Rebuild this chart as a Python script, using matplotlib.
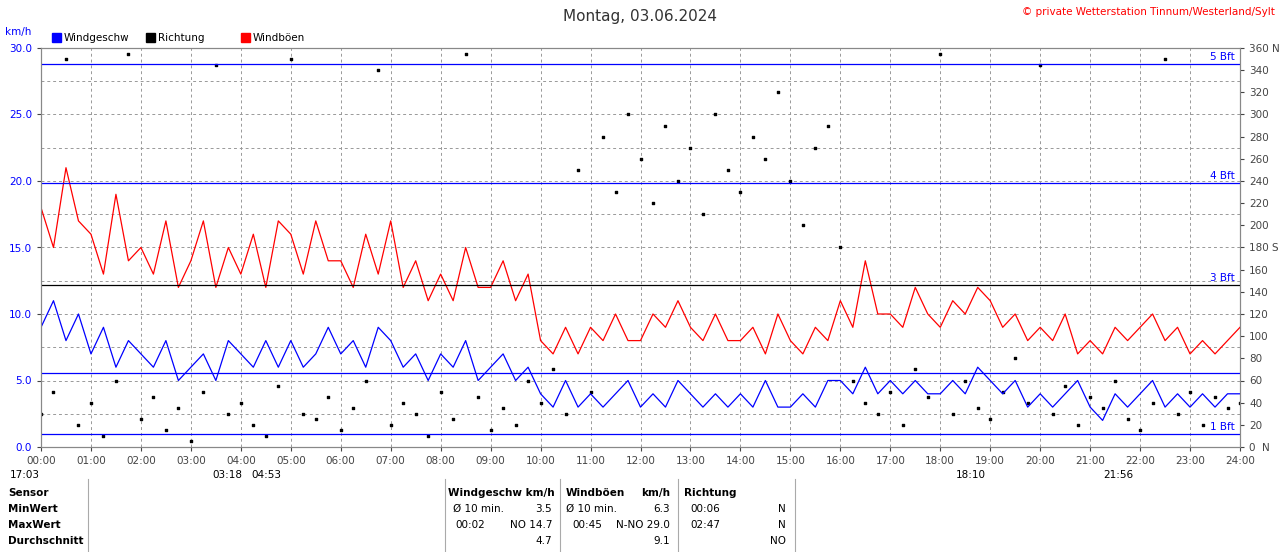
import matplotlib
matplotlib.use("Agg")
import matplotlib.pyplot as plt
import numpy as np

hours = [i * 0.25 for i in range(97)]
speed = [9,11,8,10, 7,9,6,8, 7,6,8,5, 6,7,5,8, 7,6,8,6, 8,6,7,9, 7,8,6,9, 8,6,7,5,
         7,6,8,5, 6,7,5,6, 4,3,5,3, 4,3,4,5, 3,4,3,5, 4,3,4,3, 4,3,5,3, 3,4,3,5,
         5,4,6,4, 5,4,5,4, 4,5,4,6, 5,4,5,3, 4,3,4,5, 3,2,4,3, 4,5,3,4, 3,4,3,4, 4]
gust = [18,15,21,17, 16,13,19,14, 15,13,17,12, 14,17,12,15, 13,16,12,17, 16,13,17,14,
        14,12,16,13, 17,12,14,11, 13,11,15,12, 12,14,11,13, 8,7,9,7, 9,8,10,8,
        8,10,9,11, 9,8,10,8, 8,9,7,10, 8,7,9,8, 11,9,14,10, 10,9,12,10, 9,11,10,12,
        11,9,10,8, 9,8,10,7, 8,7,9,8, 9,10,8,9, 7,8,7,8, 9]
dir_deg = [30,50,350,20,40,10,60,355,25,45,15,35,5,50,345,30,40,20,10,55,350,30,25,45,
           15,35,60,340,20,40,30,10,50,25,355,45,15,35,20,60,40,70,30,250,50,280,230,300,
           260,220,290,240,270,210,300,250,230,280,260,320,240,200,270,290,180,60,40,30,50,20,
           70,45,355,30,60,35,25,50,80,40,345,30,55,20,45,35,60,25,15,40,350,30,50,20,45,35,40]

fig = plt.figure(figsize=(12.8, 5.52), dpi=100)
ax = fig.add_axes([41/1280, 105/552, 1199/1280, 399/552])
ax.set_xlim(0, 24)
ax.set_ylim(0, 30)
for y in np.arange(2.5, 30, 2.5):
    ax.axhline(y, color='#999999', ls=(0, (3, 3)), lw=0.7)
for x in range(1, 24):
    ax.axvline(x, color='#999999', ls=(0, (3, 3)), lw=0.7)
ax.scatter(hours, [d / 12 for d in dir_deg], s=4, color='black', marker='s', zorder=2)
ax.plot(hours, gust, color='red', lw=0.9, zorder=3)
ax.plot(hours, speed, color='blue', lw=0.9, zorder=4)
for y, c, lab in [(1.0, 'blue', '1 Bft'), (5.6, 'blue', ''), (12.2, 'black', '3 Bft'),
                  (19.85, 'blue', '4 Bft'), (28.8, 'blue', '5 Bft')]:
    ax.axhline(y, color=c, lw=0.9, zorder=5)
    if lab:
        ax.text(23.9, y + 0.15, lab, color='blue', fontsize=7.5, ha='right', va='bottom')
ax.set_xticks(range(25))
ax.set_xticklabels([f"{h:02d}:00" for h in range(25)], fontsize=7.5)
ax.set_yticks(np.arange(0, 30.1, 5))
ax.set_yticklabels([f"{v:.1f}" for v in np.arange(0, 30.1, 5)], fontsize=7.5, color='blue')
ax2 = ax.twinx()
ax2.set_ylim(0, 360)
ax2.set_yticks(range(0, 361, 20))
labs = [str(v) for v in range(0, 361, 20)]
labs[0] = '0  N'; labs[9] = '180 S'; labs[18] = '360 N'
ax2.set_yticklabels(labs, fontsize=7.5)
for a in (ax, ax2):
    for s in a.spines.values():
        s.set_color('#888888')
    a.tick_params(length=3, colors='#444444')
ax.tick_params(axis='y', labelcolor='blue')

fig.text(0.5, 536/552, 'Montag, 03.06.2024', ha='center', va='center', fontsize=11, color='#333333')
fig.text(1275/1280, 540/552, '© private Wetterstation Tinnum/Westerland/Sylt', ha='right', va='center',
         fontsize=7.5, color='red')
fig.text(5/1280, 520/552, 'km/h', fontsize=7.5, color='blue', va='center')
for x, c, lab in [(52, 'blue', 'Windgeschw'), (146, 'black', 'Richtung'), (241, 'red', 'Windböen')]:
    fig.patches.append(plt.Rectangle((x/1280, 510/552), 9/1280, 9/552, color=c, transform=fig.transFigure))
    fig.text((x + 12)/1280, 514/552, lab, fontsize=7.5, va='center')
sy = 77/552
fig.text(10/1280, sy, '17:03', fontsize=7.5, va='center')
fig.text(212/1280, sy, '03:18', fontsize=7.5, va='center')
fig.text(251/1280, sy, '04:53', fontsize=7.5, va='center')
fig.text(956/1280, sy, '18:10', fontsize=7.5, va='center')
fig.text(1103/1280, sy, '21:56', fontsize=7.5, va='center')

for x in [88, 445, 560, 678, 795]:
    fig.add_artist(plt.Line2D([x/1280]*2, [0, 73/552], color='#aaaaaa', lw=0.8))
rows = [552 - 493, 552 - 509, 552 - 525, 552 - 541]
for y, t in zip(rows, ['Sensor', 'MinWert', 'MaxWert', 'Durchschnitt']):
    fig.text(8/1280, y/552, t, fontsize=7.5, fontweight='bold', va='center')
def T(x, y, s, ha='left', bold=False):
    fig.text(x/1280, y/552, s, fontsize=7.5, va='center', ha=ha, fontweight='bold' if bold else 'normal')
T(448, rows[0], 'Windgeschw km/h', bold=True)
T(566, rows[0], 'Windböen', bold=True); T(670, rows[0], 'km/h', ha='right', bold=True)
T(684, rows[0], 'Richtung', bold=True)
T(453, rows[1], 'Ø 10 min.'); T(552, rows[1], '3.5', ha='right')
T(566, rows[1], 'Ø 10 min.'); T(670, rows[1], '6.3', ha='right')
T(690, rows[1], '00:06'); T(786, rows[1], 'N', ha='right')
T(455, rows[2], '00:02'); T(552, rows[2], 'NO 14.7', ha='right')
T(572, rows[2], '00:45'); T(670, rows[2], 'N-NO 29.0', ha='right')
T(690, rows[2], '02:47'); T(786, rows[2], 'N', ha='right')
T(552, rows[3], '4.7', ha='right'); T(670, rows[3], '9.1', ha='right'); T(786, rows[3], 'NO', ha='right')
fig.savefig('out.png', dpi=100, facecolor='white')
